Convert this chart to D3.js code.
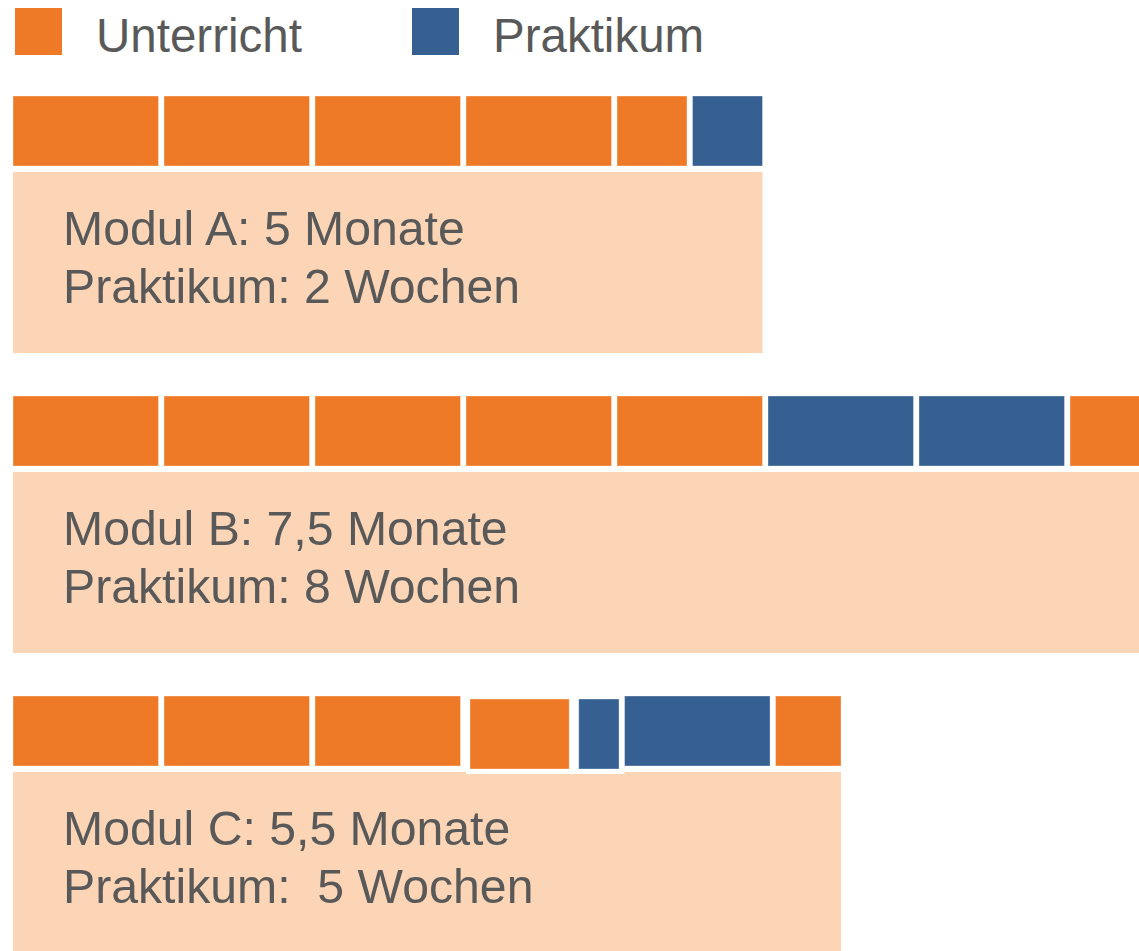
<!DOCTYPE html>
<html>
<head>
  <title>Module Unterricht / Praktikum</title>
  <script src="https://d3js.org/d3.v7.min.js"></script>
  <style>
    html, body { margin: 0; padding: 0; background: #fff; }
    svg { display: block; }
    text { font-family: "Liberation Sans", Arial, sans-serif; white-space: pre; }
  </style>
</head>
<body>
  <svg id="chart" width="1139" height="951"></svg>

  <script>
    // Legend
    const legendLabels = ['Unterricht', 'Praktikum'];
    const legendTypes = ['U', 'P'];

    // Modules: segment type and length in months
    const modules = ['Modul A', 'Modul B', 'Modul C'];
    const segmentTypes = [
      ['U', 'U', 'U', 'U', 'U', 'P'],
      ['U', 'U', 'U', 'U', 'U', 'P', 'P', 'U'],
      ['U', 'U', 'U', 'U', 'P', 'P', 'U']
    ];
    const segmentMonths = [
      [1, 1, 1, 1, 0.5, 0.5],
      [1, 1, 1, 1, 1, 1, 1, 0.5],
      [1, 1, 1, 0.72, 0.33, 1, 0.47]
    ];
    // segments that sit together in a small framed group (Modul C)
    const segmentGrouped = [
      [false, false, false, false, false, false],
      [false, false, false, false, false, false, false, false],
      [false, false, false, true, true, false, false]
    ];
    const line1 = ['Modul A: 5 Monate', 'Modul B: 7,5 Monate', 'Modul C: 5,5 Monate'];
    const line2 = ['Praktikum: 2 Wochen', 'Praktikum: 8 Wochen', 'Praktikum:  5 Wochen'];

    const color = d3.scaleOrdinal().domain(['U', 'P']).range(['#EE7A27', '#366092']);
    const boxColor = '#FBD5B5';
    const textColor = '#595959';
    const fontSize = 48.2;

    const svg = d3.select('#chart');

    // Month scale (shared by all modules)
    const x = d3.scaleLinear().domain([0, 7.5]).range([13, 13 + 7.5 * 151]);
    const gap = 5.5;

    // Row position per module
    const y = d3.scalePoint().domain(modules).range([96, 696]);
    const barH = 70;
    const boxOffset = 76;
    const boxH = 181;

    // Legend
    const legend = svg.selectAll('g.legend')
      .data(legendLabels)
      .join('g')
      .attr('class', 'legend')
      .attr('transform', (d, i) => `translate(${15 + i * 397},8)`);

    legend.append('rect')
      .attr('width', 47)
      .attr('height', 47)
      .attr('fill', (d, i) => color(legendTypes[i]));

    legend.append('text')
      .attr('x', 81)
      .attr('y', 44)
      .attr('font-size', 47.5)
      .attr('fill', textColor)
      .text(d => d);

    // Build segment table from the arrays
    const rows = modules.map((m, i) => {
      const ends = d3.cumsum(segmentMonths[i]);
      const segs = segmentMonths[i].map((v, j) => ({
        type: segmentTypes[i][j],
        start: ends[j] - v,
        end: ends[j],
        grouped: segmentGrouped[i][j]
      }));
      return { name: m, total: ends[ends.length - 1], segs, l1: line1[i], l2: line2[i] };
    });

    const row = svg.selectAll('g.row')
      .data(rows)
      .join('g')
      .attr('class', 'row')
      .attr('transform', d => `translate(0,${y(d.name)})`);

    // Peach info box
    row.append('rect')
      .attr('x', x(0))
      .attr('y', boxOffset)
      .attr('width', d => x(d.total) - gap - x(0))
      .attr('height', boxH)
      .attr('fill', boxColor);

    // White frame around grouped segments
    row.each(function(d) {
      const g = d.segs.filter(s => s.grouped);
      if (!g.length) return;
      const x0 = x(d3.min(g, s => s.start));
      const x1 = x(d3.max(g, s => s.end));
      d3.select(this).append('rect')
        .attr('x', x0)
        .attr('y', 0)
        .attr('width', x1 - x0)
        .attr('height', barH + 8)
        .attr('fill', '#fff');
    });

    // Segments
    row.selectAll('rect.seg')
      .data(d => d.segs)
      .join('rect')
      .attr('class', 'seg')
      .attr('x', d => x(d.start) + (d.grouped ? 4 : 0))
      .attr('y', d => d.grouped ? 3 : 0)
      .attr('width', d => x(d.end) - gap - x(d.start) - (d.grouped ? 4 : 0))
      .attr('height', barH)
      .attr('fill', d => color(d.type))
      .attr('stroke', 'rgba(255,255,255,0.35)')
      .attr('stroke-width', 1);

    // Box text
    row.append('text')
      .attr('x', 63)
      .attr('y', boxOffset + 73)
      .attr('font-size', fontSize)
      .attr('fill', textColor)
      .text(d => d.l1);

    row.append('text')
      .attr('x', 63)
      .attr('y', boxOffset + 131)
      .attr('font-size', fontSize)
      .attr('fill', textColor)
      .text(d => d.l2);
  </script>
</body>
</html>
